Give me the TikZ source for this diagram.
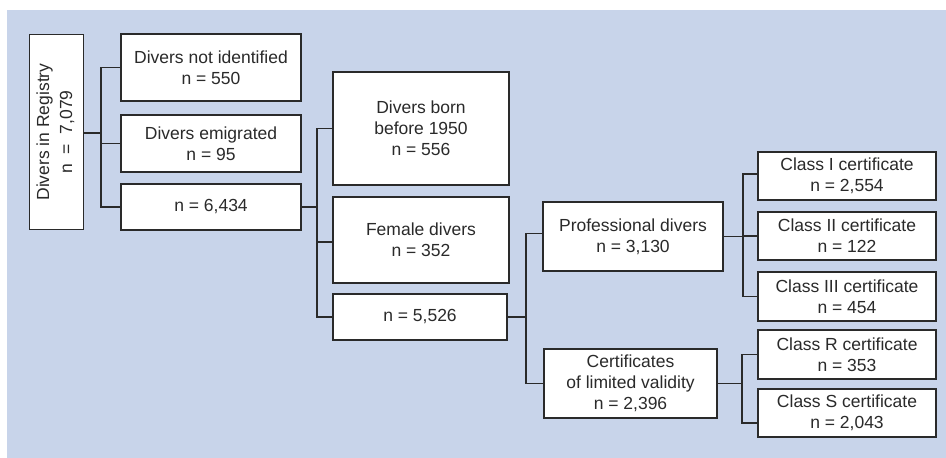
\documentclass[tikz,border=0pt]{standalone}
\usepackage{fontspec}
\setmainfont{Liberation Sans}
\definecolor{bgblue}{HTML}{C8D4EA}
\definecolor{ink}{HTML}{2A2A2A}
\begin{document}
\begin{tikzpicture}[x=1pt,y=-1pt,
  box/.style={draw=ink,fill=white,line width=1.1pt,inner sep=0pt,outer sep=0pt,align=center,
    font=\fontsize{17.5}{21}\selectfont,text=ink},
  conn/.style={draw=ink,line width=1.1pt}]
\useasboundingbox (0,0) rectangle (946,458);
\fill[bgblue] (7,10) rectangle (946,458);
% nodes
\node[box,minimum width=54pt,minimum height=195pt] (reg) at (56.5,132) {\rotatebox{90}{\begin{tabular}{@{}c@{}}Divers in Registry\\[2pt]n\ \ =\ \ 7,079\end{tabular}}};
\node[box,minimum width=180pt,minimum height=67pt] (ni) at (211,67.5) {Divers not identified\\n = 550};
\node[box,minimum width=180pt,minimum height=57pt] (em) at (211,143.5) {Divers emigrated\\n = 95};
\node[box,minimum width=180pt,minimum height=46pt] (na) at (211,207) {n = 6,434};
\node[box,minimum width=176pt,minimum height=113pt] (born) at (421,128.5) {Divers born\\before 1950\\n = 556};
\node[box,minimum width=176pt,minimum height=86pt] (fem) at (421,240) {Female divers\\n = 352};
\node[box,minimum width=174pt,minimum height=46pt] (nb) at (420,317) {n = 5,526};
\node[box,minimum width=180pt,minimum height=69pt] (prof) at (633,236.5) {Professional divers\\n = 3,130};
\node[box,minimum width=173pt,minimum height=69pt] (cert) at (630.5,383.5) {Certificates\\of limited validity\\n = 2,396};
\node[box,minimum width=178pt,minimum height=48pt] (c1) at (847,176) {Class I certificate\\n = 2,554};
\node[box,minimum width=178pt,minimum height=48pt] (c2) at (847,236) {Class II certificate\\n = 122};
\node[box,minimum width=178pt,minimum height=49pt] (c3) at (847,296.5) {Class III certificate\\n = 454};
\node[box,minimum width=178pt,minimum height=49pt] (cR) at (847,354.5) {Class R certificate\\n = 353};
\node[box,minimum width=178pt,minimum height=48pt] (cS) at (847,413) {Class S certificate\\n = 2,043};
% junction columns
\coordinate (j1) at (101,0);
\coordinate (j2) at (317,0);
\coordinate (j3) at (526,0);
\coordinate (j4) at (743,0);
\coordinate (j5) at (742,0);
% connectors level 1
\draw[conn] ([yshift=-1pt]reg.east) -- ([yshift=-1pt]reg.east -| j1);
\draw[conn] (ni.west) -| (j1 |- na.west) -- (na.west);
\draw[conn] (em.west) -- (em.west -| j1);
% level 2
\draw[conn] (na.east) -- (na.east -| j2);
\draw[conn] (born.west) -| (j2 |- nb.west) -- (nb.west);
\draw[conn] ([yshift=-2pt]fem.west) -- ([yshift=-2pt]fem.west -| j2);
% level 3
\draw[conn] (nb.east) -- (nb.east -| j3);
\draw[conn] ([yshift=3pt]prof.west) -| (j3 |- cert.west) -- (cert.west);
% level 4
\draw[conn] (prof.east) -- (prof.east -| j4);
\draw[conn] ([yshift=2pt]c1.west) -| (j4 |- c3.west) -- (c3.west);
\draw[conn] (c2.west) -- (c2.west -| j4);
\draw[conn] (cert.east) -- (cert.east -| j5);
\draw[conn] (cR.west) -| ([yshift=-10pt]j5 |- cS.west) -- ([yshift=-10pt]cS.west);
\end{tikzpicture}
\end{document}
